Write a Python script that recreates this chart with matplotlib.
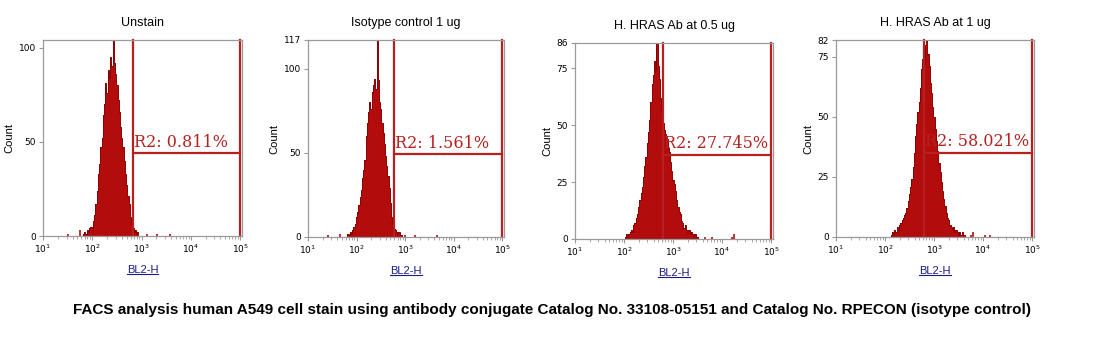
import numpy as np
import matplotlib.pyplot as plt
from matplotlib.lines import Line2D
from matplotlib.ticker import LogLocator, NullFormatter, FixedLocator

# ---- data (log10 channel start, step 0.025 decades) ----
titles = ['Unstain', 'Isotype control 1 ug', 'H. HRAS Ab at 0.5 ug', 'H. HRAS Ab at 1 ug']
gate_labels = ['R2: 0.811%', 'R2: 1.561%', 'R2: 27.745%', 'R2: 58.021%']

unstain_start = 1.80
unstain_counts = [0, 1, 2, 1, 3, 2, 4, 5, 4, 8, 11, 17, 24, 33, 38, 47, 52, 64, 70, 81,
                  76, 88, 84, 95, 90, 104, 92, 86, 80, 72, 66, 58, 52, 47, 40, 33, 27,
                  21, 17, 10, 6, 4, 2, 3, 1, 2, 0]
unstain_tail_x = [1.51, 1.75, 3.11, 3.31, 3.58]
unstain_tail_y = [1, 3, 1, 1, 1]

iso_start = 1.80
iso_counts = [0, 2, 1, 3, 2, 4, 6, 8, 12, 15, 19, 24, 28, 35, 40, 46, 60, 68, 74, 80,
              76, 86, 90, 94, 88, 117, 93, 80, 76, 68, 62, 55, 48, 42, 36, 29, 20, 12,
              8, 5, 4, 3, 2, 3, 1, 1, 0]
iso_tail_x = [1.41, 1.65, 3.0, 3.2, 3.65]
iso_tail_y = [1, 2, 1, 1, 1]

hras05_start = 2.00
hras05_counts = [0, 1, 2, 1, 2, 3, 4, 3, 6, 7, 9, 11, 14, 17, 20, 23, 27, 32, 36, 42,
                 47, 52, 60, 68, 72, 78, 74, 86, 76, 70, 62, 56, 51, 48, 46, 44, 40,
                 38, 34, 30, 26, 24, 21, 17, 14, 12, 11, 8, 7, 5, 6, 4, 3, 4, 2, 3, 2,
                 1, 2, 1, 1, 0]
hras05_tail_x = [3.65, 3.8, 4.2, 4.25]
hras05_tail_y = [1, 1, 1, 2]

hras1_start = 2.10
hras1_counts = [0, 1, 2, 1, 3, 2, 4, 3, 5, 6, 7, 8, 9, 10, 12, 15, 18, 21, 24, 29, 35,
                42, 47, 52, 56, 62, 70, 74, 72, 80, 82, 76, 71, 64, 60, 54, 50, 45, 40,
                36, 31, 27, 23, 19, 16, 13, 10, 8, 7, 5, 4, 3, 4, 2, 3, 2, 1, 2, 1, 2,
                1, 1, 0]
hras1_tail_x = [3.75, 3.8, 4.05, 4.15]
hras1_tail_y = [1, 2, 1, 1]

starts = [unstain_start, iso_start, hras05_start, hras1_start]
counts = [unstain_counts, iso_counts, hras05_counts, hras1_counts]
tails_x = [unstain_tail_x, iso_tail_x, hras05_tail_x, hras1_tail_x]
tails_y = [unstain_tail_y, iso_tail_y, hras05_tail_y, hras1_tail_y]

gate_x = [2.83, 2.78, 2.80, 2.80]       # log10 of gate start
gate_y = [44, 49, 37, 35]               # height of gate bar
y_max = [104, 117, 86, 82]
y_ticks = [[0, 50, 100], [0, 50, 100, 117], [0, 25, 50, 75, 86], [0, 25, 50, 75, 82]]
step = 0.025

caption = ('FACS analysis human A549 cell stain using antibody conjugate Catalog No. '
           '33108-05151 and Catalog No. RPECON (isotype control)')

# ---- layout ----
W, H = 1104, 353
fig = plt.figure(figsize=(W / 100, H / 100), dpi=100, facecolor='white')
boxes = [(43, 40, 199, 196), (308, 40, 196, 197), (575, 43, 198, 196), (836, 40, 198, 197)]

hist_fill = '#b30c0c'
hist_edge = '#8c0000'
gate_col = '#b82020'
grey = '#9a9a9a'

for i in range(4):
    l, t, w, h = boxes[i]
    ax = fig.add_axes([l / W, (H - t - h) / H, w / W, h / H])
    xs = 10 ** (starts[i] + step * np.arange(len(counts[i])))
    ax.fill_between(xs, 0, counts[i], step='mid', color=hist_fill, lw=0)
    ax.step(xs, counts[i], where='mid', color=hist_edge, lw=0.7)
    ax.vlines(10 ** np.array(tails_x[i]), 0, tails_y[i], color=hist_fill, lw=1.2)

    ax.set_xscale('log')
    ax.set_xlim(10, 10 ** 5.04)
    ax.set_ylim(0, y_max[i])

    # gate
    gx = 10 ** gate_x[i]
    ax.plot([gx, gx], [0, y_max[i]], color=gate_col, lw=1.6, clip_on=False)
    ax.plot([1e5, 1e5], [0, y_max[i]], color=gate_col, lw=1.6, clip_on=False)
    ax.plot([gx, 1e5], [gate_y[i], gate_y[i]], color=gate_col, lw=1.6)
    ax.text(gx * 1.03, gate_y[i] + 1.2, gate_labels[i], color=gate_col, fontsize=11.5,
            family='DejaVu Serif', ha='left', va='bottom')

    for s in ax.spines.values():
        s.set_color(grey)
        s.set_linewidth(0.9)

    ax.yaxis.set_major_locator(FixedLocator(y_ticks[i]))
    ax.xaxis.set_major_locator(LogLocator(base=10, numticks=10))
    ax.xaxis.set_minor_locator(LogLocator(base=10, subs=np.arange(2, 10), numticks=10))
    ax.xaxis.set_minor_formatter(NullFormatter())
    ax.tick_params(axis='both', which='major', labelsize=6.5, colors='black',
                   length=3, width=0.8, pad=2)
    ax.tick_params(axis='both', which='major', color=grey)
    ax.tick_params(axis='x', which='minor', length=2, width=0.6, color=grey)

    ax.set_title(titles[i], fontsize=9, family='Liberation Sans', pad=10)
    ax.set_ylabel('Count', fontsize=8, family='Liberation Sans', labelpad=3)
    ax.set_xlabel('BL2-H', fontsize=8, family='Liberation Sans', color='#1a1a8c',
                  labelpad=7)

fig.text(0.5, (H - 310) / H, caption, ha='center', va='center', fontsize=11,
         weight='bold', family='Liberation Sans')

# underline the axis labels
fig.canvas.draw()
r = fig.canvas.get_renderer()
for ax in fig.axes:
    bb = ax.xaxis.label.get_window_extent(r)
    fig.add_artist(Line2D([bb.x0 / W, bb.x1 / W], [(bb.y0 + 1) / H] * 2,
                          color='#1a1a8c', lw=0.8))

fig.savefig('out.png', dpi=100)
